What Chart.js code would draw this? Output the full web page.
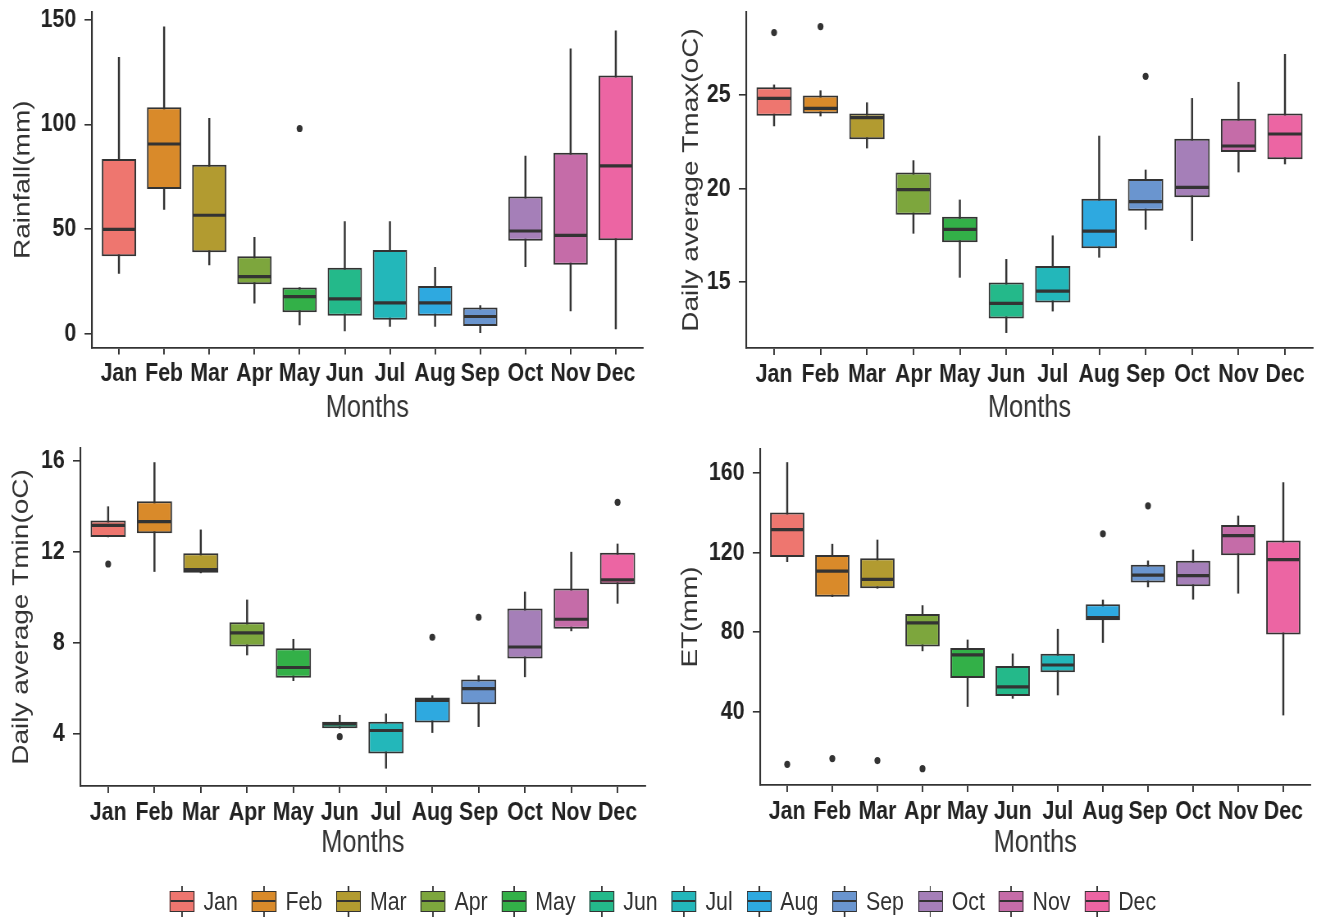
<!DOCTYPE html>
<html>
<head>
<meta charset="utf-8">
<title>Monthly climate box plots</title>
<script src="https://cdn.jsdelivr.net/npm/chart.js@4.4.1/dist/chart.umd.min.js"></script>
<style>
  html, body { margin: 0; padding: 0; background: #fff; overflow: hidden; }
  /* the figure is laid out wide and squeezed horizontally for a condensed look */
  #page {
    position: relative;
    width: 1617px;
    height: 919px;
    transform: scaleX(0.82);
    transform-origin: 0 0;
    font-family: "Liberation Sans", Arial, sans-serif;
  }
  canvas { position: absolute; }
  #legend {
    position: absolute;
    left: 0;
    top: 885px;
    width: 1617px;
    height: 32px;
    display: flex;
    justify-content: center;
    align-items: center;
  }
  .item { display: flex; align-items: center; margin: 0 8.6px; }
  .swatch { position: relative; width: 30px; height: 31px; margin-right: 11px; }
  .swatch .stem { position: absolute; left: 14px; top: 0; bottom: 0; width: 1.9px; background: #333; }
  .swatch .box {
    position: absolute; left: 0; top: 5px; width: 30px; height: 21px;
    box-sizing: border-box; border: 1.8px solid #333;
  }
  .swatch .box::after {
    content: ""; position: absolute; left: 0; right: 0; top: 50%;
    height: 2px; margin-top: -1px; background: #333;
  }
  .item span { font-size: 26px; color: #333; }
</style>
</head>
<body>
<div id="page">
  <canvas id="rainChart" width="808" height="430" style="left:0px;top:0px"></canvas>
  <canvas id="tmaxChart" width="809" height="430" style="left:808px;top:0px"></canvas>
  <canvas id="tminChart" width="808" height="430" style="left:0px;top:440px"></canvas>
  <canvas id="etChart" width="809" height="430" style="left:808px;top:440px"></canvas>
  <div id="legend"></div>
</div>
<script>
const months = ["Jan", "Feb", "Mar", "Apr", "May", "Jun", "Jul", "Aug", "Sep", "Oct", "Nov", "Dec"];
const boxColors = ["#EE766F", "#D98A2A", "#B29B30", "#7DA63D", "#33B048", "#24B98A",
  "#23B7BA", "#2EA9E0", "#6A95CF", "#A57FB8", "#C56CA8", "#EC65A3"];

// Rainfall (mm)
const rainLow = [28.9, 59.4, 32.9, 14.6, 4.3, 1.4, 3.5, 3.5, 0.6, 32.1, 11.0, 2.4];
const rainQ1 = [37.0, 69.1, 38.9, 23.7, 10.3, 8.6, 6.7, 8.6, 3.8, 44.5, 33.0, 44.7];
const rainMed = [49.9, 90.6, 56.6, 27.3, 17.8, 16.7, 14.8, 14.8, 8.3, 49.1, 47.0, 80.2];
const rainQ3 = [83.4, 108.2, 80.7, 37.0, 22.1, 31.5, 40.0, 22.9, 12.6, 65.5, 86.4, 123.3];
const rainHigh = [132.0, 146.5, 102.8, 46.1, 22.1, 53.6, 53.6, 31.8, 13.5, 84.9, 136.0, 144.6];
const rainOutMonth = ["May"];
const rainOutValue = [98.0];
const rainTicks = [0, 50, 100, 150];

// Daily average Tmax (oC)
const tmaxLow = [23.33, 23.86, 22.15, 17.60, 15.25, 12.30, 13.45, 16.32, 17.81, 17.21, 20.87, 21.30];
const tmaxQ1 = [23.88, 23.99, 22.62, 18.59, 17.12, 13.06, 13.91, 16.80, 18.81, 19.52, 21.94, 21.55];
const tmaxMed = [24.80, 24.27, 23.77, 19.93, 17.81, 13.86, 14.52, 17.72, 19.29, 20.05, 22.26, 22.90];
const tmaxQ3 = [25.39, 24.96, 24.00, 20.84, 18.49, 14.98, 15.85, 19.45, 20.50, 22.65, 23.72, 24.00];
const tmaxHigh = [25.52, 25.21, 24.57, 21.48, 19.38, 16.21, 17.47, 22.79, 20.98, 24.80, 25.66, 27.15];
const tmaxOutMonth = ["Jan", "Feb", "Sep"];
const tmaxOutValue = [28.31, 28.63, 25.98];
const tmaxTicks = [15, 20, 25];

// Daily average Tmin (oC)
const tminLow = [12.66, 11.14, 11.08, 7.47, 6.34, 4.25, 2.49, 4.06, 4.32, 6.51, 8.53, 9.74];
const tminQ1 = [12.66, 12.82, 11.08, 7.84, 6.47, 4.25, 3.14, 4.50, 5.30, 7.31, 8.62, 10.58];
const tminMed = [13.17, 13.33, 11.22, 8.44, 6.92, 4.44, 4.15, 5.47, 5.99, 7.82, 9.04, 10.77];
const tminQ3 = [13.38, 14.23, 11.94, 8.91, 7.77, 4.54, 4.53, 5.60, 6.39, 9.51, 10.39, 11.97];
const tminHigh = [13.99, 15.93, 12.97, 9.89, 8.16, 4.82, 4.88, 5.68, 6.56, 10.24, 11.99, 12.35];
const tminOutMonth = ["Jan", "Jun", "Aug", "Sep", "Dec"];
const tminOutValue = [11.47, 3.88, 8.25, 9.13, 14.18];
const tminTicks = [4, 8, 12, 16];

// ET (mm)
const etLow = [115.5, 97.9, 102.1, 70.6, 42.6, 46.7, 48.4, 74.8, 102.8, 96.6, 99.6, 38.3];
const etQ1 = [117.9, 97.9, 102.1, 72.8, 57.0, 47.9, 59.8, 86.0, 105.0, 103.1, 118.7, 78.9];
const etMed = [131.6, 110.7, 106.6, 84.7, 68.6, 52.5, 63.5, 87.4, 108.7, 108.5, 128.6, 116.5];
const etQ3 = [140.2, 118.9, 117.2, 89.2, 72.1, 63.0, 69.1, 94.1, 114.0, 115.9, 134.0, 126.1];
const etHigh = [165.4, 124.3, 126.4, 93.4, 76.1, 69.1, 81.5, 96.2, 115.9, 121.4, 138.5, 155.3];
const etOutMonth = ["Jan", "Feb", "Mar", "Apr", "Aug", "Sep"];
const etOutValue = [13.5, 16.4, 15.4, 11.3, 129.5, 143.6];
const etTicks = [40, 80, 120, 160];

const ink = "#333333";
const fontFamily = "'Liberation Sans', Arial, sans-serif";

// median bars drawn across each box after the datasets
const medianPlugin = {
  id: "medianLines",
  afterDatasetsDraw(chart, args, opts) {
    const meta = chart.getDatasetMeta(1);
    const yScale = chart.scales.y;
    const ctx = chart.ctx;
    ctx.save();
    ctx.strokeStyle = ink;
    ctx.lineWidth = 3.2;
    meta.data.forEach((bar, i) => {
      const py = yScale.getPixelForValue(opts.values[i]);
      ctx.beginPath();
      ctx.moveTo(bar.x - bar.width / 2 + 1, py);
      ctx.lineTo(bar.x + bar.width / 2 - 1, py);
      ctx.stroke();
    });
    ctx.restore();
  },
};

function makeBoxChart(canvasId, s, frame) {
  const canvas = document.getElementById(canvasId);
  const w = canvas.width;
  const h = canvas.height;
  return new Chart(canvas, {
    type: "bar",
    plugins: [medianPlugin],
    data: {
      datasets: [
        {
          // whiskers
          data: months.map((m, i) => ({ x: i + 1, y: [s.low[i], s.high[i]] })),
          backgroundColor: ink,
          barThickness: 1.8,
          grouped: false,
          order: 2,
        },
        {
          // boxes (Q1 to Q3)
          data: months.map((m, i) => ({ x: i + 1, y: [s.q1[i], s.q3[i]] })),
          backgroundColor: boxColors,
          borderColor: ink,
          borderWidth: 2,
          borderSkipped: false,
          categoryPercentage: 1,
          barPercentage: 0.76,
          grouped: false,
          order: 1,
        },
        {
          type: "scatter",
          data: s.outMonth.map((m, i) => ({ x: months.indexOf(m) + 1, y: s.outValue[i] })),
          backgroundColor: ink,
          borderWidth: 0,
          pointRadius: 3.6,
          order: 0,
        },
      ],
    },
    options: {
      responsive: false,
      animation: false,
      layout: {
        padding: { left: 0, top: frame.top, right: w - frame.right, bottom: 0 },
      },
      plugins: {
        legend: { display: false },
        tooltip: { enabled: false },
        medianLines: { values: s.med },
      },
      scales: {
        x: {
          type: "linear",
          offset: false,
          min: 0.4,
          max: 12.6,
          afterBuildTicks: (axis) => {
            axis.ticks = months.map((m, i) => ({ value: i + 1 }));
          },
          afterFit: (axis) => {
            axis.height = h - frame.bottom;
            axis.paddingLeft = 0;
            axis.paddingRight = 0;
          },
          ticks: {
            callback: (v) => months[v - 1],
            autoSkip: false,
            maxRotation: 0,
            padding: frame.xPad,
            color: "#222",
            font: { family: fontFamily, size: 26, weight: "bold" },
          },
          grid: { offset: false, drawOnChartArea: false, drawTicks: true, tickLength: 7, color: ink, lineWidth: 1.9 },
          border: { display: true, color: ink, width: 1.8 },
          title: {
            display: true,
            text: "Months",
            color: ink,
            font: { family: fontFamily, size: 31, lineHeight: 1.2 },
            padding: { top: 0, bottom: frame.xTitlePad },
          },
        },
        y: {
          min: s.min,
          max: s.max,
          afterBuildTicks: (axis) => {
            axis.ticks = s.ticks.map((v) => ({ value: v }));
          },
          afterFit: (axis) => {
            // keep the plot frame fixed; labels may overhang the top edge
            axis.width = frame.left;
            axis.paddingTop = 0;
            axis.paddingBottom = 0;
          },
          ticks: {
            padding: 10,
            color: "#222",
            font: { family: fontFamily, size: 26, weight: "bold" },
          },
          grid: { drawOnChartArea: false, drawTicks: true, tickLength: 9, color: ink, lineWidth: 1.6 },
          border: { display: true, color: ink, width: 2.1 },
          title: {
            display: true,
            text: s.title,
            color: ink,
            font: { family: fontFamily, size: 28, lineHeight: 1.2 },
            padding: { top: frame.yTitlePad, bottom: 0 },
          },
        },
      },
    },
  });
}

makeBoxChart("rainChart", {
  low: rainLow, q1: rainQ1, med: rainMed, q3: rainQ3, high: rainHigh,
  outMonth: rainOutMonth, outValue: rainOutValue, ticks: rainTicks,
  min: -6.5, max: 153.6, title: "Rainfall(mm)",
}, { left: 112, right: 784, top: 12, bottom: 347.5, xPad: 4, xTitlePad: 3, yTitlePad: 11 });

makeBoxChart("tmaxChart", {
  low: tmaxLow, q1: tmaxQ1, med: tmaxMed, q3: tmaxQ3, high: tmaxHigh,
  outMonth: tmaxOutMonth, outValue: tmaxOutValue, ticks: tmaxTicks,
  min: 11.48, max: 29.41, title: "Daily average Tmax(oC)",
}, { left: 102, right: 793, top: 12, bottom: 348, xPad: 4, xTitlePad: 3, yTitlePad: 18 });

makeBoxChart("tminChart", {
  low: tminLow, q1: tminQ1, med: tminMed, q3: tminQ3, high: tminHigh,
  outMonth: tminOutMonth, outValue: tminOutValue, ticks: tminTicks,
  min: 1.71, max: 16.57, title: "Daily average Tmin(oC)",
}, { left: 98, right: 787, top: 8, bottom: 346, xPad: 4, xTitlePad: 8, yTitlePad: 9 });

makeBoxChart("etChart", {
  low: etLow, q1: etQ1, med: etMed, q3: etQ3, high: etHigh,
  outMonth: etOutMonth, outValue: etOutValue, ticks: etTicks,
  min: 3.1, max: 172.2, title: "ET(mm)",
}, { left: 119, right: 790, top: 9, bottom: 345, xPad: 4, xTitlePad: 8, yTitlePad: 17 });

// shared legend
const legend = document.getElementById("legend");
months.forEach((m, i) => {
  const item = document.createElement("div");
  item.className = "item";
  item.innerHTML =
    '<div class="swatch"><div class="stem"></div><div class="box" style="background:' +
    boxColors[i] + '"></div></div><span>' + m + "</span>";
  legend.appendChild(item);
});
</script>
</body>
</html>
